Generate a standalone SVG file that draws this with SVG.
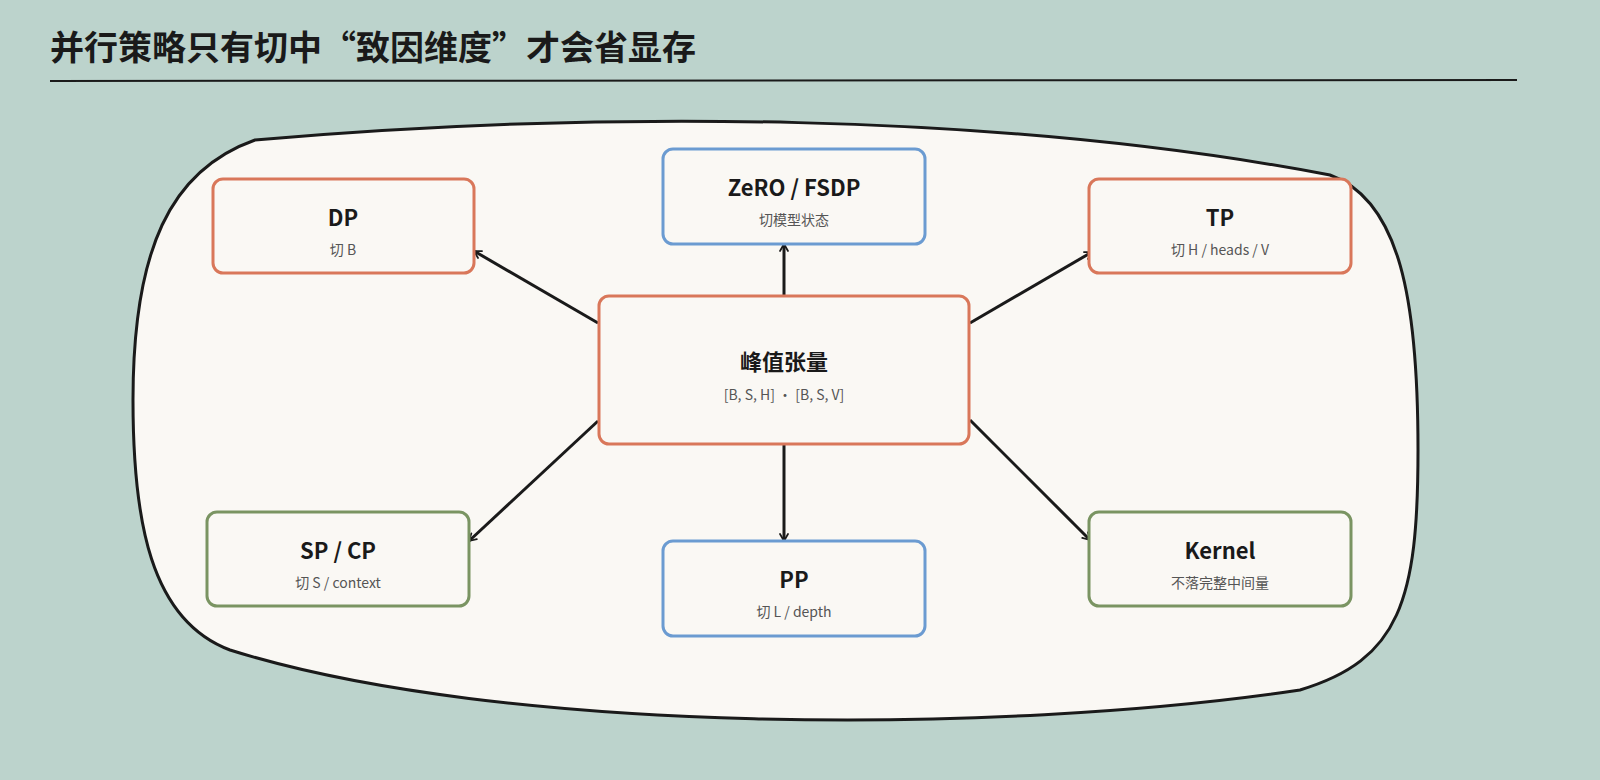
<svg xmlns="http://www.w3.org/2000/svg" width="1600" height="780" viewBox="0 0 1600 780">
<defs>
<style>
.t{font-family:"Noto Sans CJK SC","Noto Sans",sans-serif;fill:#1a1a1a;text-anchor:middle}
.h{font-size:22px;font-weight:600}
.s{font-size:14px;fill:#555}
.n{fill:#faf8f4;stroke-width:3}
.o{stroke:#d9775a}.b{stroke:#6b9bd1}.g{stroke:#7a9462}
.c{stroke:#1a1a1a;stroke-width:3;fill:none;marker-end:url(#a)}
</style>
<marker id="a" viewBox="0 0 20 20" refX="16" refY="10" markerWidth="10" markerHeight="10" orient="auto" markerUnits="userSpaceOnUse"><path d="M2 2 L16 10 L2 18" fill="none" stroke="#1a1a1a" stroke-width="3.5" stroke-linecap="round" stroke-linejoin="round"/></marker>
</defs>
<rect width="1600" height="780" fill="#bcd3cc"/>
<text x="50" y="60" font-family="Noto Sans CJK SC,sans-serif" font-size="34" font-weight="700" fill="#1a1a1a">并行策略只有切中“致因维度”才会省显存</text>
<line x1="50" y1="81" x2="1517" y2="80" stroke="#1a1a1a" stroke-width="2"/>
<path d="M255 140 C600 110 1000 112 1330 175 C1400 200 1418 300 1418 450 C1418 600 1400 660 1300 690 C1000 735 500 735 230 650 C150 620 133 520 133 400 C133 250 170 170 255 140 Z" fill="#faf8f4" stroke="#1a1a1a" stroke-width="3"/>
<g id="connectors">
<line class="c" x1="598" y1="323" x2="474" y2="251"/>
<line class="c" x1="784" y1="295" x2="784" y2="244"/>
<line class="c" x1="970" y1="323" x2="1092" y2="252"/>
<line class="c" x1="598" y1="421" x2="469" y2="541"/>
<line class="c" x1="784" y1="445" x2="784" y2="541"/>
<line class="c" x1="970" y1="420" x2="1090" y2="540"/>
</g>
<g id="center"><rect class="n o" x="599" y="296" width="370" height="148" rx="10"/><text class="t h" x="784" y="370">峰值张量</text><text class="t s" x="784" y="400">[B, S, H] · [B, S, V]</text></g>
<g id="dp"><rect class="n o" x="213" y="179" width="261" height="94" rx="10"/><text class="t h" x="343" y="226">DP</text><text class="t s" x="343" y="255">切 B</text></g>
<g id="zero"><rect class="n b" x="663" y="149" width="262" height="95" rx="10"/><text class="t h" x="794" y="196">ZeRO / FSDP</text><text class="t s" x="794" y="225">切模型状态</text></g>
<g id="tp"><rect class="n o" x="1089" y="179" width="262" height="94" rx="10"/><text class="t h" x="1220" y="226">TP</text><text class="t s" x="1220" y="255">切 H / heads / V</text></g>
<g id="sp"><rect class="n g" x="207" y="512" width="262" height="94" rx="10"/><text class="t h" x="338" y="559">SP / CP</text><text class="t s" x="338" y="588">切 S / context</text></g>
<g id="pp"><rect class="n b" x="663" y="541" width="262" height="95" rx="10"/><text class="t h" x="794" y="588">PP</text><text class="t s" x="794" y="617">切 L / depth</text></g>
<g id="kernel"><rect class="n g" x="1089" y="512" width="262" height="94" rx="10"/><text class="t h" x="1220" y="559">Kernel</text><text class="t s" x="1220" y="588">不落完整中间量</text></g>
</svg>
